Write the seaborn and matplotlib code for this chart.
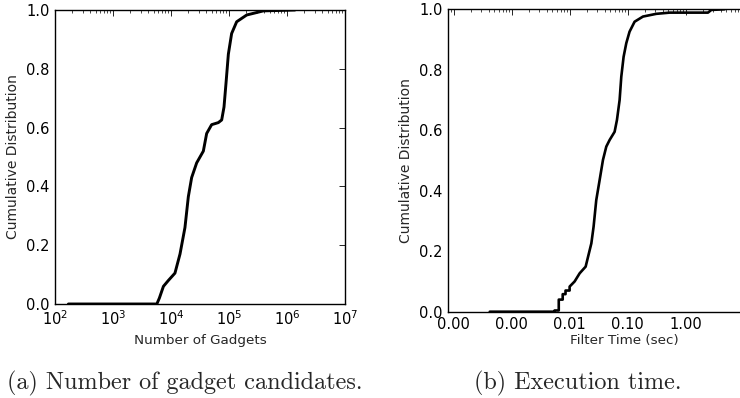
import matplotlib
matplotlib.use("Agg")
import matplotlib.pyplot as plt
import matplotlib.ticker as mticker
import seaborn as sns
import pandas as pd

# ---- data ----
gadget_counts = [170, 5700, 6300, 7400, 9000, 11700, 14300, 17400, 19900, 22700,
                 27700, 36100, 41200, 50200, 65500, 74800, 82000, 88700, 97500,
                 111000, 135600, 201800, 391000, 1375000]
gadget_cdf = [0, 0, 0.02, 0.06, 0.08, 0.105, 0.17, 0.26, 0.365, 0.43, 0.48, 0.52,
              0.58, 0.61, 0.617, 0.626, 0.67, 0.75, 0.85, 0.92, 0.96, 0.983, 0.997, 1.0]

filter_time = [4.2e-4, 5.5e-3, 5.5e-3, 6.5e-3, 6.5e-3, 7.6e-3, 7.6e-3, 8.5e-3, 8.5e-3,
               0.0100, 0.0100, 0.0122, 0.0149, 0.0189, 0.0207, 0.0237, 0.0259, 0.0288,
               0.0329, 0.0376, 0.0429, 0.0490, 0.0597, 0.0655, 0.0728, 0.0778, 0.0853,
               0.0949, 0.108, 0.132, 0.184, 0.312, 0.530, 2.43, 2.78, 4.70]
filter_cdf = [0, 0, 0.004, 0.004, 0.04, 0.04, 0.058, 0.058, 0.07, 0.07, 0.083, 0.10,
              0.127, 0.149, 0.18, 0.226, 0.281, 0.369, 0.435, 0.502, 0.546, 0.568,
              0.595, 0.634, 0.70, 0.777, 0.843, 0.888, 0.926, 0.959, 0.976, 0.985,
              0.989, 0.989, 0.998, 1.0]

y_ticks = [0.0, 0.2, 0.4, 0.6, 0.8, 1.0]
left_xticks = [1e2, 1e3, 1e4, 1e5, 1e6, 1e7]
right_xticks = [1e-4, 1e-3, 1e-2, 1e-1, 1e0]
left_xlabel = "Number of Gadgets"
right_xlabel = "Filter Time (sec)"
ylabel = "Cumulative Distribution"
caption_a = "(a) Number of gadget candidates."
caption_b = "(b) Execution time."

sns.set_style("white")
plt.rcParams["font.family"] = ["DejaVu Sans"]
plt.rcParams["font.size"] = 10

W, H = 740, 398
fig = plt.figure(figsize=(W / 100, H / 100), dpi=100)

def px_axes(l, t, r, b):
    return fig.add_axes([l / W, 1 - b / H, (r - l) / W, (b - t) / H])

ax1 = px_axes(55, 10, 345, 304)
ax2 = px_axes(448, 9.3, 801.6, 311.7)

df1 = pd.DataFrame({"x": gadget_counts, "y": gadget_cdf})
df2 = pd.DataFrame({"x": filter_time, "y": filter_cdf})

sns.lineplot(data=df1, x="x", y="y", ax=ax1, color="black", lw=2.1,
             estimator=None, sort=False)
sns.lineplot(data=df2, x="x", y="y", ax=ax2, color="black", lw=1.9,
             estimator=None, sort=False)

for ax in (ax1, ax2):
    ax.set_xscale("log")
    ax.set_ylim(0, 1)
    ax.set_yticks(y_ticks)
    ax.yaxis.set_major_formatter(mticker.FormatStrFormatter("%.1f"))
    ax.tick_params(which="both", direction="in", top=True, right=True,
                   labelsize=10.5, colors="black")
    ax.tick_params(which="major", length=4, width=0.6)
    ax.tick_params(which="minor", length=2, width=0.5)
    ax.tick_params(axis="x", pad=4)
    ax.tick_params(axis="y", pad=4)
    for s in ax.spines.values():
        s.set_color("black")
        s.set_linewidth(1.0)
    ax.set_ylabel(ylabel, fontsize=10)
    ax.grid(False)

ax1.set_xlim(1e2, 1e7)
ax1.xaxis.set_major_locator(mticker.FixedLocator(left_xticks))
ax1.xaxis.set_major_formatter(mticker.LogFormatterSciNotation())
ax1.xaxis.set_minor_formatter(mticker.NullFormatter())
ax1.set_xlabel(left_xlabel, fontsize=9.7)

ax2.set_xlim(8e-5, 1e2)
ax2.xaxis.set_major_locator(mticker.FixedLocator(right_xticks))
ax2.xaxis.set_major_formatter(mticker.FormatStrFormatter("%.2f"))
ax2.xaxis.set_minor_formatter(mticker.NullFormatter())
ax2.set_xlabel(right_xlabel, fontsize=9.7)

ax1.yaxis.set_label_coords(-0.121, 0.5)
ax2.yaxis.set_label_coords(-0.099, 0.5)
ax1.xaxis.set_label_coords(0.5, -0.102)
ax2.xaxis.set_label_coords(0.5, -0.074)

fig.text(185 / W, 1 - 389 / H, caption_a, family="cmr10", fontsize=17.4,
         ha="center", va="baseline")
fig.text(578 / W, 1 - 389 / H, caption_b, family="cmr10", fontsize=17.4,
         ha="center", va="baseline")

fig.savefig("out.png", dpi=100)
